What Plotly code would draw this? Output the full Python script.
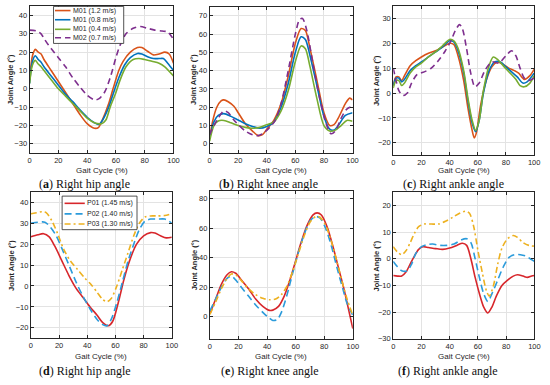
import plotly.graph_objects as go

W, H = 550, 385

# ---------------- DATA ----------------
# (a) Right hip angle, M subjects
a_m01_12_x = [0, 2, 4, 6, 8, 10, 15, 20, 25, 30, 35, 40, 45, 48, 50, 55, 58, 62, 65, 70, 75, 78, 82, 86, 90, 94, 97, 100]
a_m01_12_y = [5, 18, 21.5, 20, 19, 16, 10, 4, -2, -8, -14, -19, -21.5, -21, -18, -8, 0, 10, 15, 20, 22.5, 22.5, 20.5, 18.5, 19, 20, 19, 14]
a_m01_08_x = [0, 2, 4, 6, 8, 10, 15, 20, 25, 30, 35, 40, 45, 48, 50, 55, 58, 62, 66, 70, 75, 78, 82, 86, 90, 93, 96, 100]
a_m01_08_y = [3, 15, 18, 16, 14.5, 12, 7, 2, -3, -7, -11.5, -15.5, -18.5, -19.5, -18, -10, -3, 6, 13, 17, 19.3, 19, 17.5, 16.5, 16.5, 16.5, 14, 10]
a_m01_04_x = [0, 2, 4, 6, 8, 10, 15, 20, 25, 30, 35, 40, 45, 50, 53, 56, 60, 63, 67, 72, 76, 80, 85, 90, 94, 100]
a_m01_04_y = [3, 13, 15.5, 13.5, 12, 10, 5, 0, -4, -8, -12, -16, -18.5, -19, -17, -10, -2, 5, 12, 16, 16.5, 16, 15, 14, 12, 7]
a_m02_07_x = [0, 5, 8, 10, 13, 17, 20, 25, 30, 35, 40, 45, 48, 52, 56, 60, 63, 67, 72, 77, 82, 87, 92, 96, 100]
a_m02_07_y = [32, 31.5, 30, 27.5, 24, 20, 17, 12, 6, 1, -3.5, -6, -5.5, -2, 6, 17, 24, 30, 33, 34, 33, 32, 31.5, 31, 27]

# (b) Right knee angle, M subjects
b_m01_12_x = [0, 2, 5, 8, 10, 13, 17, 20, 25, 30, 34, 37, 40, 45, 50, 55, 60, 64, 67, 70, 75, 80, 84, 87, 90, 95, 98, 100]
b_m01_12_y = [3, 12, 20, 23.5, 24, 23, 20.5, 17, 11, 7, 4.5, 5, 8, 13, 22, 37, 55, 63, 62, 53, 35, 17, 10, 10.5, 14, 22, 25, 24]
b_m01_08_x = [0, 3, 6, 10, 15, 20, 25, 30, 35, 40, 45, 50, 55, 60, 64, 67, 70, 75, 80, 84, 87, 90, 95, 100]
b_m01_08_y = [3, 12, 15.5, 16.5, 15, 13, 11, 9.5, 8.5, 9.5, 12, 20, 33, 50, 58.5, 57, 49, 32, 15, 8, 7.5, 10, 15.5, 17]
b_m01_04_x = [0, 3, 6, 10, 15, 20, 25, 30, 35, 40, 45, 50, 55, 60, 64, 67, 70, 75, 80, 84, 88, 92, 96, 100]
b_m01_04_y = [1.5, 10, 12.5, 12.8, 11.5, 10, 9, 8.5, 9, 10.5, 12, 18, 29, 45, 53.5, 52, 43, 25, 10, 7, 7.5, 10, 12.8, 12.3]
b_m02_07_x = [0, 3, 6, 10, 13, 17, 20, 25, 30, 34, 38, 42, 46, 50, 55, 60, 63, 65, 68, 72, 77, 82, 85, 88, 92, 96, 100]
b_m02_07_y = [5, 10, 14, 18, 17, 13, 10.5, 7, 5, 4.5, 6, 9, 13, 22, 40, 60, 68, 68.5, 62, 45, 25, 10, 5.5, 7, 14, 19, 20.5]

# (c) Right ankle angle, M subjects
c_m01_12_x = [0, 2, 4, 6, 8, 12, 16, 20, 25, 30, 35, 40, 43, 46, 50, 53, 56, 57.5, 59, 62, 66, 70, 74, 78, 82, 86, 89, 93, 97, 100]
c_m01_12_y = [3, 6.5, 6.5, 5, 7, 11, 13, 14.5, 16, 17, 18.5, 20, 19.5, 15, 5, -6, -15, -18, -16, -5, 5, 10.5, 12.5, 11.5, 10, 9, 8, 5.5, 7, 9.5]
c_m01_08_x = [0, 2, 4, 6, 8, 12, 16, 20, 25, 30, 35, 40, 43, 46, 50, 53, 56, 58.5, 61, 64, 68, 72, 76, 80, 85, 88, 92, 95, 100]
c_m01_08_y = [3, 6, 6, 4.5, 5.5, 9, 11, 12.5, 14.5, 16.5, 18.5, 21, 20.5, 17, 8, -3, -12, -15.5, -11, 0, 9, 12.5, 12.5, 10.5, 8, 6.5, 4, 4.5, 8]
c_m01_04_x = [0, 2, 4, 6, 8, 12, 16, 20, 25, 30, 35, 40, 43, 46, 50, 53, 56, 58.5, 61, 64, 68, 71, 74, 78, 83, 87, 90, 93, 97, 100]
c_m01_04_y = [2, 5, 5, 3, 4, 8, 10.5, 12, 14.5, 16.5, 19, 21.5, 21, 18, 9, -2, -11, -15, -11, 1, 11, 14.5, 13.5, 11, 8, 5.5, 3, 2.5, 4, 7]
c_m02_07_x = [0, 2, 4, 7, 10, 13, 17, 22, 27, 32, 37, 41, 44, 47, 49, 52, 55, 58, 61, 65, 70, 75, 80, 84, 87, 90, 93, 96, 100]
c_m02_07_y = [10, 5, 1, -1, 0, 4, 7.5, 8.5, 10, 13, 17, 21, 25, 27.5, 26, 18, 8, 2.5, 4, 9, 12.5, 12, 15, 17, 15, 10, 6, 5, 6]

# (d) Right hip angle, P subjects
d_p01_x = [0, 5, 9, 13, 17, 22, 27, 32, 37, 42, 47, 51, 55, 58, 62, 66, 70, 75, 80, 85, 88, 92, 96, 100]
d_p01_y = [23.5, 24.5, 25, 23.5, 19, 12, 5, -1, -5.5, -10, -14, -17.5, -19, -17, -8, 3, 12, 20, 24, 25.5, 25.3, 24, 23, 23.3]
d_p02_x = [0, 5, 10, 14, 18, 22, 27, 32, 37, 42, 47, 51, 54, 57, 61, 65, 69, 73, 77, 81, 85, 90, 95, 98, 100]
d_p02_y = [30, 30.5, 30.5, 28, 24, 18, 10, 2, -5, -11, -16, -18.5, -19, -16, -8, 2, 12, 20, 27, 31, 32, 32, 32, 31, 30]
d_p03_x = [0, 4, 8, 11, 15, 19, 23, 28, 33, 38, 43, 47, 51, 54, 57, 61, 65, 69, 73, 77, 81, 85, 90, 95, 100]
d_p03_y = [34.5, 35, 35.5, 35, 31, 25, 18, 12, 8, 4, 0.5, -3, -6.5, -7.5, -6, 0, 8, 16, 24, 30, 33, 33.5, 33.5, 33.7, 34.5]

# (e) Right knee angle, P subjects
e_p01_x = [0, 4, 8, 12, 15, 18, 22, 27, 32, 37, 41, 44, 48, 52, 56, 60, 64, 68, 72, 75, 78, 82, 86, 90, 94, 97, 100]
e_p01_y = [2, 12, 22, 28.5, 30.5, 29.5, 25, 19, 12, 7, 4.5, 4.5, 7, 14, 25, 38, 51, 62, 69, 70.5, 69, 61, 48, 33, 18, 5, -8]
e_p02_x = [0, 4, 8, 12, 15, 18, 22, 27, 32, 37, 41, 44, 47, 50, 54, 58, 62, 66, 70, 74, 77, 81, 85, 89, 93, 96, 100]
e_p02_y = [4, 12, 20, 26, 27.5, 25, 20, 14, 8, 3, -0.5, -2.5, -2, 3, 15, 30, 44, 56, 65, 68, 67, 60, 48, 33, 19, 9, 1]
e_p03_x = [0, 4, 8, 12, 15, 18, 22, 27, 32, 37, 42, 46, 50, 54, 58, 62, 66, 70, 74, 77, 81, 85, 89, 93, 96, 100]
e_p03_y = [1.5, 10, 19, 26, 29, 28.5, 24.5, 19, 15, 12.5, 11.5, 12, 15, 21, 31, 43, 55, 64, 68, 67.5, 62, 51, 37, 22, 12, 1]

# (f) Right ankle angle, P subjects
f_p01_x = [0, 3, 6, 9, 12, 15, 18, 21, 25, 30, 35, 40, 45, 49, 52, 55, 58, 61, 64, 67, 70, 73, 77, 81, 85, 88, 92, 95, 98, 100]
f_p01_y = [-6.3, -6.5, -6.5, -5, -2, 1, 3.5, 4.5, 4.2, 3.8, 3.5, 4, 5, 5.8, 5, 0, -7, -13, -18, -20.3, -18, -14, -10, -8, -6.5, -6, -6.5, -7, -6.5, -6.3]
f_p02_x = [0, 3, 6, 10, 13, 16, 20, 24, 28, 33, 38, 43, 48, 52, 55, 58, 61, 64, 67, 70, 74, 78, 82, 86, 90, 94, 97, 100]
f_p02_y = [-1, -3, -4.5, -4.5, -2, 2, 4.5, 5.3, 5.5, 5, 5, 5.5, 7, 7.5, 6, 0, -7, -13, -16, -13, -8, -3, 0.5, 1.5, 1.5, 1, 0, -1]
f_p03_x = [0, 3, 6, 9, 12, 15, 18, 22, 27, 32, 37, 42, 47, 51, 54, 57, 60, 63, 66, 68, 71, 74, 77, 81, 85, 88, 92, 96, 100]
f_p03_y = [4.5, 2.5, 1.5, 3, 6, 9.5, 12, 13, 13, 13, 14, 15.5, 17, 17.8, 17, 12, 3, -5, -12, -14, -10, -2, 4, 7.5, 8.7, 8, 6, 5, 4.7]

m_names = ["M01 (1.2 m/s)", "M01 (0.8 m/s)", "M01 (0.4 m/s)", "M02 (0.7 m/s)"]
p_names = ["P01 (1.45 m/s)", "P02 (1.40 m/s)", "P03 (1.30 m/s)"]

captions = ["Right hip angle", "Right knee angle", "Right ankle angle",
            "Right hip angle", "Right knee angle", "Right ankle angle"]
letters = ["a", "b", "c", "d", "e", "f"]

x_ticks = [0, 20, 40, 60, 80, 100]
y_ranges = [[-35, 45], [-5, 75], [-25, 35], [-25, 45], [-15, 85], [-30, 25]]
y_dticks = [10, 10, 10, 10, 20, 10]

# ---------------- STYLE ----------------
m_colors = ["#D95319", "#0072BD", "#77AC30", "#7E2F8E"]
m_dash = ["solid", "solid", "solid", "6px,4px"]
p_colors = ["#D7262B", "#2B9BDB", "#EDB120"]
p_dash = ["solid", "7px,4px", "6px,3px,2px,3px"]

# panel boxes in pixels: (left, right, top, bottom)
boxes = [(28, 174, 6.4, 155), (210.7, 355.7, 6.7, 155), (397, 540, 6, 157.3),
         (29.3, 172.3, 194.4, 342.7), (211, 356, 194, 343.3), (397, 540.3, 194.5, 343.3)]
ylabel_x = [8.5, 195, 380, 9, 195, 379.5]
xlabel_y = [172.5, 172.5, 173, 361.5, 361.5, 361.5]
caption_cx = [84, 270, 458, 84, 272, 453]
caption_y = [186, 186, 186, 375.5, 375.5, 375.5]

def px(x):
    return x / W

def py(y):
    return 1 - y / H

SANS = "Liberation Sans, Arial, sans-serif"
SERIF = "Liberation Serif, Times New Roman, serif"
AX = "#262626"

fig = go.Figure()

panels = [
    ([(a_m01_12_x, a_m01_12_y), (a_m01_08_x, a_m01_08_y), (a_m01_04_x, a_m01_04_y), (a_m02_07_x, a_m02_07_y)], m_names, m_colors, m_dash),
    ([(b_m01_12_x, b_m01_12_y), (b_m01_08_x, b_m01_08_y), (b_m01_04_x, b_m01_04_y), (b_m02_07_x, b_m02_07_y)], m_names, m_colors, m_dash),
    ([(c_m01_12_x, c_m01_12_y), (c_m01_08_x, c_m01_08_y), (c_m01_04_x, c_m01_04_y), (c_m02_07_x, c_m02_07_y)], m_names, m_colors, m_dash),
    ([(d_p01_x, d_p01_y), (d_p02_x, d_p02_y), (d_p03_x, d_p03_y)], p_names, p_colors, p_dash),
    ([(e_p01_x, e_p01_y), (e_p02_x, e_p02_y), (e_p03_x, e_p03_y)], p_names, p_colors, p_dash),
    ([(f_p01_x, f_p01_y), (f_p02_x, f_p02_y), (f_p03_x, f_p03_y)], p_names, p_colors, p_dash),
]

layout = {}
annotations = []
shapes = []

for i, (series, names, colors, dashes) in enumerate(panels):
    n = i + 1
    xa = "x" if n == 1 else f"x{n}"
    ya = "y" if n == 1 else f"y{n}"
    for (xs, ys), name, col, dsh in zip(series, names, colors, dashes):
        fig.add_trace(go.Scatter(
            x=xs, y=ys, mode="lines", name=name, showlegend=False,
            line=dict(color=col, width=1.6, dash=dsh, shape="spline", smoothing=0.8),
            xaxis=xa, yaxis=ya, hoverinfo="skip"))
    l, r, t, b = boxes[i]
    xkey = "xaxis" if n == 1 else f"xaxis{n}"
    ykey = "yaxis" if n == 1 else f"yaxis{n}"
    common = dict(showline=True, mirror="ticks", linecolor=AX, linewidth=1,
                  showgrid=True, gridcolor="#E3E3E3", gridwidth=1, zeroline=False,
                  ticks="inside", ticklen=3, tickcolor=AX,
                  tickfont=dict(family=SANS, size=7.5, color=AX))
    layout[xkey] = dict(domain=[px(l), px(r)], range=[0, 100], tickvals=x_ticks,
                        anchor=ya, fixedrange=True, **common)
    layout[ykey] = dict(domain=[py(b), py(t)], range=y_ranges[i], dtick=y_dticks[i],
                        anchor=xa, fixedrange=True, **common)
    annotations.append(dict(xref="paper", yref="paper", x=px((l + r) / 2),
                            y=py(xlabel_y[i]), text="Gait Cycle (%)", showarrow=False,
                            font=dict(family=SANS, size=8, color=AX),
                            xanchor="center", yanchor="middle"))
    annotations.append(dict(xref="paper", yref="paper", x=px(ylabel_x[i]),
                            y=py((t + b) / 2), text="<b>Joint Angle (°)</b>", showarrow=False,
                            textangle=-90, font=dict(family=SANS, size=7.5, color=AX),
                            xanchor="center", yanchor="middle"))
    annotations.append(dict(xref="paper", yref="paper", x=px(caption_cx[i]),
                            y=py(caption_y[i]), text=f"(<b>{letters[i]}</b>) {captions[i]}",
                            showarrow=False, font=dict(family=SERIF, size=12, color="#111111"),
                            xanchor="center", yanchor="middle"))

# ---------------- manual legends ----------------
def legend(box, rows_y, sx0, sx1, tx, names, colors, dashes):
    l, r, t, b = box
    shapes.append(dict(type="rect", xref="paper", yref="paper",
                       x0=px(l), x1=px(r), y0=py(b), y1=py(t),
                       line=dict(color=AX, width=0.8), fillcolor="white", layer="above"))
    for yy, name, col, dsh in zip(rows_y, names, colors, dashes):
        shapes.append(dict(type="line", xref="paper", yref="paper",
                           x0=px(sx0), x1=px(sx1), y0=py(yy), y1=py(yy),
                           line=dict(color=col, width=1.6, dash=dsh), layer="above"))
        annotations.append(dict(xref="paper", yref="paper", x=px(tx), y=py(yy),
                                text=name, showarrow=False, xanchor="left", yanchor="middle",
                                font=dict(family=SANS, size=7, color=AX)))

legend((52.3, 123.5, 6.5, 44), [10.7, 20, 29.7, 38.3], 53.8, 69.5, 70.2, m_names, m_colors, m_dash)
legend((61, 137, 198.7, 232.7), [206, 216.7, 227], 63.5, 84, 84.5, p_names, p_colors, p_dash)

fig.update_layout(width=W, height=H, margin=dict(l=0, r=0, t=0, b=0),
                  paper_bgcolor="white", plot_bgcolor="white", showlegend=False,
                  hovermode=False, annotations=annotations, shapes=shapes, **layout)

fig.write_html("out.html", config={"displayModeBar": False, "staticPlot": True},
               post_script="document.body.style.margin='0';document.body.style.overflow='hidden';")
